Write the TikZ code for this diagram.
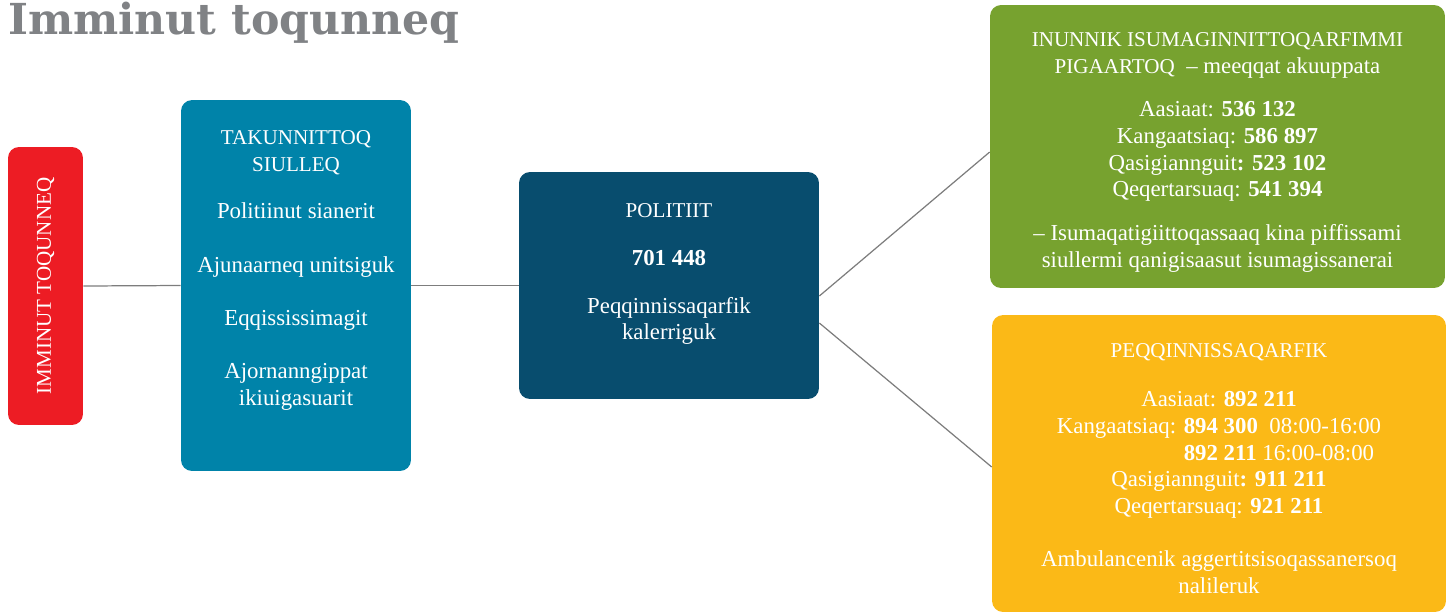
\documentclass[tikz,border=0pt]{standalone}
\usepackage{fontspec}
\setmainfont{Liberation Serif}
\newfontfamily\titlefont{DejaVu Serif}

\definecolor{titlegray}{RGB}{128,130,133}
\definecolor{linegray}{RGB}{125,125,125}
\definecolor{alarmred}{RGB}{237,28,36}
\definecolor{checkteal}{RGB}{0,131,169}
\definecolor{policenavy}{RGB}{8,77,110}
\definecolor{mindgreen}{RGB}{119,162,47}
\definecolor{careyellow}{RGB}{251,185,23}

\newcommand{\headtxt}[1]{{\fontsize{12}{15.2}\selectfont #1}}

\begin{document}
\begin{tikzpicture}[x=0.02cm,y=-0.02cm,
  box/.style={rounded corners=0.22cm,inner sep=0pt},
  boxtext/.style={text=white,align=center,inner sep=0pt,font=\fontsize{13}{15.2}\selectfont},
  link/.style={draw=linegray,line width=0.7pt}]
\useasboundingbox (0,0) rectangle (1446,613);

% title
\node[anchor=base west,inner sep=0pt,text=titlegray,font=\titlefont\bfseries\fontsize{24.3}{24.3}\selectfont] (title) at (8,34) {Imminut toqunneq};

% boxes
\node[box,fill=alarmred,minimum width=1.5cm,minimum height=5.56cm] (imminut) at (45.5,286) {};
\node[box,fill=checkteal,minimum width=4.6cm,minimum height=7.42cm] (takunnittoq) at (296,285.5) {};
\node[box,fill=policenavy,minimum width=6cm,minimum height=4.54cm] (politiit) at (669,285.5) {};
\node[box,fill=mindgreen,minimum width=9.1cm,minimum height=5.66cm] (isumaginnittoq) at (1217.5,146.5) {};
\node[box,fill=careyellow,minimum width=9.08cm,minimum height=5.94cm] (peqqinnissaqarfik) at (1219,463.5) {};

% texts
\node[boxtext,rotate=90] (imminuttxt) at (imminut.center) {\headtxt{IMMINUT TOQUNNEQ}};
\node[boxtext,anchor=north] (takunnittoqtxt) at (296,130) {\headtxt{TAKUNNITTOQ}\\ \headtxt{SIULLEQ}\\[12pt]
  Politiinut sianerit\\[15.5pt] Ajunaarneq unitsiguk\\[15pt] Eqqississimagit\\[15pt]
  Ajornanngippat\\ ikiuigasuarit};
\node[boxtext,anchor=north] (politiittxt) at (669,203) {\headtxt{POLITIIT}\\[12.3pt] \textbf{701 448}\\[11.8pt]
  Peqqinnissaqarfik\\ kalerriguk};
\node[boxtext,anchor=north] (isumaginnittoqtxt) at (1217.5,32) {\headtxt{INUNNIK ISUMAGINNITTOQARFIMMI}\\
  \headtxt{PIGAARTOQ}\ \ -- meeqqat akuuppata\\[9.7pt]
  Aasiaat: \textbf{536 132}\\ Kangaatsiaq: \textbf{586 897}\\
  Qasigiannguit\textbf{: 523 102}\\ Qeqertarsuaq: \textbf{541 394}\\[9.7pt]
  -- Isumaqatigiittoqassaaq kina piffissami\\ siullermi qanigisaasut isumagissanerai};
\node[boxtext,anchor=north] (peqqinnissaqarfiktxt) at (1219,343) {\headtxt{PEQQINNISSAQARFIK}\\[13pt]
  Aasiaat: \textbf{892 211}\\
  Kangaatsiaq: \textbf{894 300}\ \ 08:00-16:00\\
  \hphantom{Kangaatsiaq: }\rlap{\textbf{892 211} 16:00-08:00}\hphantom{\textbf{894 300}\ \ 08:00-16:00}\\
  Qasigiannguit\textbf{: 911 211}\\ Qeqertarsuaq: \textbf{921 211}\\[15pt]
  Ambulancenik aggertitsisoqassanersoq\\ nalileruk};

% connectors
\draw[link] (imminut.east) -- (takunnittoq.west);
\draw[link] (takunnittoq.east) -- (politiit.west);
\draw[link] ([yshift=-0.21cm]politiit.east) -- ([yshift=-0.11cm]isumaginnittoq.west);
\draw[link] ([yshift=-0.75cm]politiit.east) -- ([yshift=-0.07cm]peqqinnissaqarfik.west);
\end{tikzpicture}
\end{document}
